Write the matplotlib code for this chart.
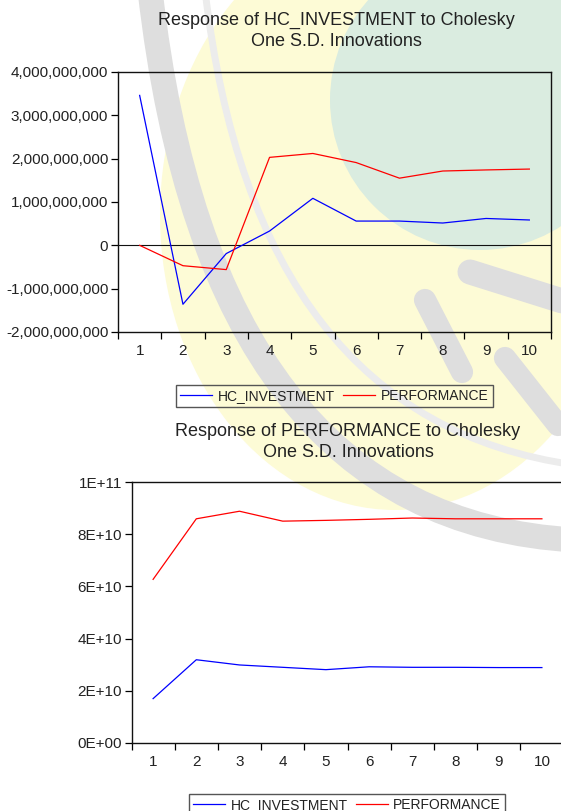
import matplotlib.pyplot as plt
import numpy as np
from matplotlib.patches import Ellipse, PathPatch
from matplotlib.path import Path
from matplotlib.ticker import FuncFormatter

plt.rcParams['font.family'] = ['Liberation Sans', 'DejaVu Sans']

periods = np.arange(1, 11)

# impulse responses of HC_INVESTMENT
hc_to_hc = [3.46e9, -1.36e9, -0.19e9, 0.33e9, 1.085e9, 0.56e9, 0.56e9, 0.515e9, 0.62e9, 0.585e9]
hc_to_perf = [0.0, -0.47e9, -0.56e9, 2.03e9, 2.12e9, 1.91e9, 1.55e9, 1.715e9, 1.74e9, 1.76e9]

# impulse responses of PERFORMANCE
perf_to_hc = [17.0e9, 31.9e9, 29.9e9, 29.0e9, 28.1e9, 29.2e9, 29.0e9, 29.0e9, 28.9e9, 28.9e9]
perf_to_perf = [62.7e9, 85.9e9, 88.8e9, 85.0e9, 85.3e9, 85.7e9, 86.2e9, 85.9e9, 85.9e9, 85.9e9]

series_names = ["HC_INVESTMENT", "PERFORMANCE"]
top_yticks = [-2e9, -1e9, 0, 1e9, 2e9, 3e9, 4e9]
bottom_yticks = [0, 2e10, 4e10, 6e10, 8e10, 1e11]

W, H = 561, 811
fig = plt.figure(figsize=(W / 100, H / 100), dpi=100)
fig.patch.set_facecolor('white')

# faint logo behind the charts
bg = fig.add_axes([0, 0, 1, 1], zorder=-5)
bg.set_xlim(0, W)
bg.set_ylim(H, 0)
bg.axis('off')
bg.add_patch(Ellipse((395, 215), 470, 590, color='#fdfbd6', lw=0))
bg.add_patch(Ellipse((480, 100), 300, 300, color='#daece0', lw=0))
gray = '#dedede'
band = Path([(150, -10), (210, 520), (575, 540)], [Path.MOVETO, Path.CURVE3, Path.CURVE3])
bg.add_patch(PathPatch(band, fc='none', ec=gray, lw=18, capstyle='butt'))
band2 = Path([(205, -10), (255, 420), (575, 465)], [Path.MOVETO, Path.CURVE3, Path.CURVE3])
bg.add_patch(PathPatch(band2, fc='none', ec='#ececec', lw=5, capstyle='butt'))
for (x0, y0), (x1, y1), w in [((470, 272), (575, 305), 18),
                             ((425, 300), (462, 372), 16),
                             ((505, 358), (558, 425), 16)]:
    bg.plot([x0, x1], [y0, y1], color=gray, lw=w, solid_capstyle='round')

text_color = '#222222'
blue, red = '#0000ff', '#ff0000'


def style_axes(ax, yticks, fmt):
    ax.set_facecolor('none')
    ax.set_xlim(0.5, 10.5)
    ax.set_ylim(yticks[0], yticks[-1])
    ax.set_yticks(yticks)
    ax.yaxis.set_major_formatter(FuncFormatter(fmt))
    ax.set_xticks(periods)
    ax.set_xticks(np.arange(0.5, 11, 1), minor=True)
    ax.tick_params(axis='x', which='major', length=0, pad=9, labelsize=11, labelcolor=text_color)
    ax.tick_params(axis='x', which='minor', length=5, width=0.9, direction='out')
    ax.tick_params(axis='y', length=5, width=0.9, direction='out', pad=2,
                   labelsize=11, labelcolor=text_color)
    for s in ax.spines.values():
        s.set_linewidth(1.0)
        s.set_color('#111111')


def add_legend(ax, handles, cx, top):
    ax.legend(handles, series_names, loc='upper center', bbox_to_anchor=(cx / W, 1 - top / H),
              bbox_transform=fig.transFigure, ncol=2, fontsize=10, frameon=True,
              fancybox=False, edgecolor='#555555', framealpha=1, facecolor='none',
              handlelength=2.3, handletextpad=0.4, columnspacing=0.6,
              borderpad=0.3, labelcolor=text_color)


# top chart
ax1 = fig.add_axes([118 / W, 1 - 332 / H, 433 / W, 260 / H])
ax1.axhline(0, color='#111111', lw=0.8, zorder=1)
l1, = ax1.plot(periods, hc_to_hc, color=blue, lw=0.9)
l2, = ax1.plot(periods, hc_to_perf, color=red, lw=0.9)
style_axes(ax1, top_yticks, lambda v, p: f"{v:,.0f}")
add_legend(ax1, [l1, l2], 334.5, 378)
fig.text(336 / W, 1 - 31 / H, "Response of HC_INVESTMENT to Cholesky\nOne S.D. Innovations",
         ha='center', va='center', fontsize=13, color=text_color, linespacing=1.3)

# bottom chart
ax2 = fig.add_axes([131.5 / W, 1 - 743 / H, 432 / W, 261 / H])
l3, = ax2.plot(periods, perf_to_hc, color=blue, lw=0.9)
l4, = ax2.plot(periods, perf_to_perf, color=red, lw=0.9)
style_axes(ax2, bottom_yticks, lambda v, p: f"{v:.0E}")
add_legend(ax2, [l3, l4], 347, 787)
fig.text(348 / W, 1 - 442 / H, "Response of PERFORMANCE to Cholesky\nOne S.D. Innovations",
         ha='center', va='center', fontsize=13, color=text_color, linespacing=1.3)

fig.savefig('out.png', dpi=100)
